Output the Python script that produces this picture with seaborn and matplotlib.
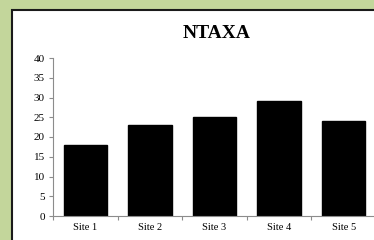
import matplotlib
matplotlib.use("Agg")
import matplotlib.pyplot as plt
import seaborn as sns
import pandas as pd
from matplotlib.patches import Rectangle

sites = ["Site 1", "Site 2", "Site 3", "Site 4", "Site 5"]
ntaxa = [18, 23, 25, 29, 24]
yticks = [0, 5, 10, 15, 20, 25, 30, 35, 40]

sns.set_style("white")
plt.rcParams['font.family'] = ['Liberation Serif', 'DejaVu Serif']

df = pd.DataFrame({"site": sites, "ntaxa": ntaxa})

fig = plt.figure(figsize=(3.74, 2.40), dpi=100)
fig.patch.set_facecolor("#c3d69b")
bg = Rectangle((12 / 374, -0.1), 1.1, (240 - 10) / 240 + 0.1,
               transform=fig.transFigure, facecolor="white",
               edgecolor="#1a1a1a", linewidth=1.5, zorder=-10)
fig.patches.append(bg)

ax = fig.add_axes([53 / 374, 24 / 240, 323 / 374, 158 / 240])
ax.set_zorder(5)
ax.set_facecolor("none")
sns.barplot(data=df, x="site", y="ntaxa", color="black", width=0.67,
            saturation=1, edgecolor="black", ax=ax)
ax.set_xlim(-0.5, 4.5)
ax.set_ylim(0, 40)
ax.set_yticks(yticks)
ax.set_xlabel("")
ax.set_ylabel("")
for s in ["top", "right"]:
    ax.spines[s].set_visible(False)
for s in ["left", "bottom"]:
    ax.spines[s].set_color("#8c8c8c")
    ax.spines[s].set_linewidth(0.8)
ax.set_xticks(range(len(sites)))
ax.set_xticklabels(sites, fontsize=7.5, color="black")
ax.set_xticks([i - 0.5 for i in range(len(sites) + 1)], minor=True)
ax.tick_params(axis="x", which="major", length=0, pad=5, labelcolor="black")
ax.tick_params(axis="x", which="minor", length=3, color="#8c8c8c", width=0.8, direction="out", bottom=True)
ax.tick_params(axis="y", length=3, color="#8c8c8c", width=0.8, direction="out", left=True, labelsize=8, pad=3, labelcolor="black")
t = fig.text(217 / 374, 1 - 33 / 240, "NTAXA", ha="center", va="center",
             fontsize=14, fontweight="bold", color="black")
t.set_zorder(6)

fig.savefig("out.png", dpi=100, facecolor=fig.get_facecolor())
